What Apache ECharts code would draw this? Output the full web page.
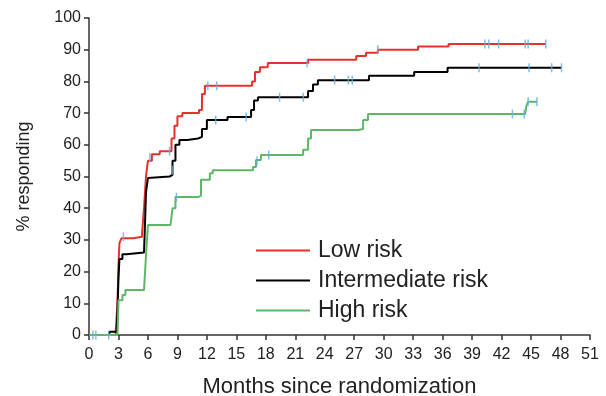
<!DOCTYPE html>
<html>
<head>
<meta charset="utf-8">
<script src="https://cdn.jsdelivr.net/npm/echarts@6/dist/echarts.min.js"></script>
<style>
  html, body { margin: 0; padding: 0; background: #fff; }
  #chart { width: 606px; height: 396px; }
</style>
</head>
<body>
<div id="chart"></div>
<script>
// step curves: [month, % responding] (value after each event)
var lowRisk = [[0,0],[2.7,0],[2.9,10],[3.0,22],[3.1,29],[3.3,30.5],[4.5,31],[5.4,32],[5.6,40],[5.8,50],[6.0,55],[6.4,57],[7.2,58],[8.4,62],[8.7,66],[9.0,69],[9.5,70],[11.2,71],[11.5,76],[11.8,78.6],[16.6,80],[16.9,83],[17.4,84.5],[18.2,85.8],[22.3,86.8],[27.2,88],[28.2,89],[29.4,90],[33.5,91],[36.6,91.8],[46.5,91.8]];
var intermediateRisk = [[0,0],[2.0,0],[2.1,1],[2.8,1],[2.9,8],[3.0,18],[3.1,24],[3.4,25.5],[3.8,26],[5.6,26.5],[5.7,35],[5.8,45],[6.0,49.5],[6.2,50],[8.2,50.5],[8.5,55],[8.8,60],[9.2,61.5],[10.0,62],[11.1,62.5],[11.5,65],[12.0,67.8],[14.1,68.8],[16.5,71],[16.8,74],[17.2,75],[22.3,77],[22.8,79],[23.3,80.4],[28.5,81.8],[33.1,83],[36.5,84.3],[48.1,84.3]];
var highRisk = [[0,0],[2.9,0],[3.0,11],[3.4,12.6],[3.7,14.2],[5.6,14.5],[5.8,25],[6.0,34.7],[8.3,35],[8.5,40],[8.8,43.5],[11.1,44],[11.4,49],[12.3,51],[12.6,52],[16.7,53],[17.0,55.2],[17.5,56.8],[21.8,58.4],[22.3,62],[22.6,64.7],[27.4,65],[27.9,67.8],[28.4,69.7],[44.4,69.7],[44.5,72],[44.7,73.6],[45.6,73.6]];

// censored observations
var censorLow = [[3.5,31],[6.2,56],[8.2,58],[12.1,78.6],[13,78.6],[22.2,85.8],[29.4,90],[40.3,91.8],[40.7,91.8],[41.7,91.8],[44.4,91.8],[44.7,91.8],[46.5,91.8]];
var censorInter = [[8.5,52],[12.9,67.8],[16,68.8],[19.4,75],[21.8,75],[25,80.4],[26.4,80.4],[26.8,80.4],[39.7,84.3],[44.8,84.3],[47.1,84.3],[48.1,84.3]];
var censorHigh = [[0.4,0],[0.7,0],[2.0,0],[8.9,43.5],[17.1,55],[18.3,56.8],[43.1,69.7],[44.3,69.7],[44.7,73.6],[45.6,73.6]];

var seriesNames = ['Low risk', 'Intermediate risk', 'High risk'];
var seriesColors = ['#e5322b', '#000000', '#5cb866'];
var censorColor = '#62b0de';

var chart = echarts.init(document.getElementById('chart'), null, { renderer: 'canvas' });

function stepLine(name, data, color) {
    return {
        name: name,
        type: 'line',
        step: 'end',
        data: data,
        symbol: 'none',
        lineStyle: { color: color, width: 2 },
        itemStyle: { color: color },
        z: 2
    };
}

function censorMarks(data) {
    return {
        type: 'scatter',
        data: data,
        symbol: 'rect',
        symbolSize: [1.5, 9],
        itemStyle: { color: censorColor },
        silent: true,
        z: 3
    };
}

var option = {
    animation: false,
    textStyle: { fontFamily: 'Liberation Sans, Arial, sans-serif' },
    grid: { left: 89, right: 16, top: 18, bottom: 61, outerBoundsMode: 'none' },
    legend: {
        data: seriesNames,
        orient: 'vertical',
        left: 251,
        top: 234,
        icon: 'rect',
        itemWidth: 54,
        itemHeight: 2,
        itemGap: 7,
        textStyle: { fontSize: 23, lineHeight: 23, color: '#222', padding: [0, 0, 0, 3] }
    },
    xAxis: {
        type: 'value',
        min: 0,
        max: 51,
        interval: 3,
        name: 'Months since randomization',
        nameLocation: 'middle',
        nameGap: 41,
        nameTextStyle: { fontSize: 22, color: '#222' },
        axisLine: { lineStyle: { color: '#333', width: 1.5 } },
        axisTick: { length: 5, lineStyle: { color: '#333', width: 1.5 } },
        axisLabel: { fontSize: 16, color: '#222', margin: 12 },
        splitLine: { show: false }
    },
    yAxis: {
        type: 'value',
        min: 0,
        max: 100,
        interval: 10,
        name: '% responding',
        nameLocation: 'middle',
        nameGap: 56,
        nameTextStyle: { fontSize: 18, color: '#222' },
        axisLine: { show: true, lineStyle: { color: '#333', width: 1.5 } },
        axisTick: { show: true, length: 5, lineStyle: { color: '#333', width: 1.5 } },
        axisLabel: { fontSize: 16, color: '#222', margin: 8 },
        splitLine: { show: false }
    },
    series: [
        stepLine(seriesNames[0], lowRisk, seriesColors[0]),
        stepLine(seriesNames[1], intermediateRisk, seriesColors[1]),
        stepLine(seriesNames[2], highRisk, seriesColors[2]),
        censorMarks(censorLow),
        censorMarks(censorInter),
        censorMarks(censorHigh)
    ]
};

chart.setOption(option);
</script>
</body>
</html>
